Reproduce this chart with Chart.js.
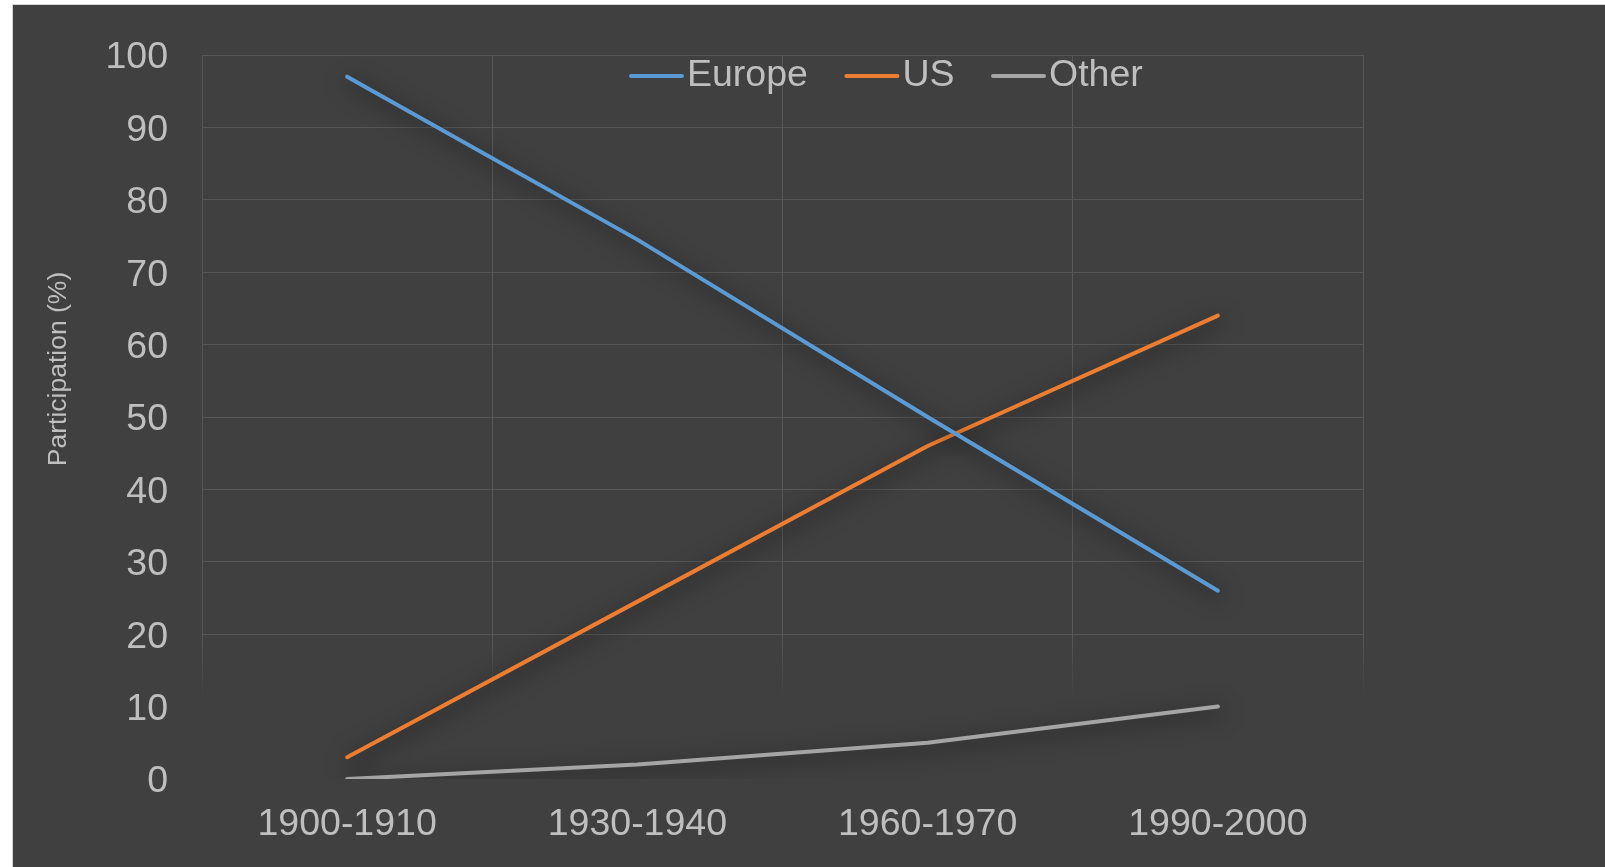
<!DOCTYPE html>
<html>
<head>
<meta charset="utf-8">
<title>Participation by region</title>
<script src="https://cdn.jsdelivr.net/npm/chart.js@4/dist/chart.umd.min.js"></script>
<style>
  html, body { margin: 0; padding: 0; background: #ffffff; }
  #frame {
    position: absolute; left: 12px; top: 4px;
    width: 1592px; height: 862px;
    border-top: 1px solid #d4d4d4; border-left: 1px solid #d4d4d4;
    background: #404040;
  }
  #frame canvas { display: block; }
</style>
</head>
<body>
<div id="frame"><canvas id="chart" width="1592" height="862"></canvas></div>
<script>
// Decades on the category axis
const periods = ['1900-1910', '1930-1940', '1960-1970', '1990-2000'];

// Share of participation per region (%)
const europe = [97, 74.5, 50, 26];
const us = [3, 24.5, 46, 64];
const other = [0, 2, 5, 10];

const seriesNames = ['Europe', 'US', 'Other'];
const seriesColors = ['#5B9BD5', '#ED7D31', '#A5A5A5'];

// Value axis range and step
const yMin = 0;
const yMax = 100;
const yStep = 10;

const yTitle = 'Participation (%)';

const FONT = '"Liberation Sans", Arial, Helvetica, sans-serif';
const TEXT = '#BFBFBF';
const GRID = '#575757';
const GRID_CLEAR = 'rgba(87,87,87,0)';

// Vertical grid lines fade out toward the bottom of the plot
function verticalGridColor(c) {
  const chart = c.chart;
  const area = chart.chartArea;
  if (!area) return GRID;
  const g = chart.ctx.createLinearGradient(0, area.top, 0, area.bottom);
  g.addColorStop(0, GRID);
  g.addColorStop(0.8, GRID);
  g.addColorStop(0.89, GRID_CLEAR);
  g.addColorStop(1, GRID_CLEAR);
  return g;
}

// Horizontal grid lines: the lowest ones are lost in the shading
function horizontalGridColor(c) {
  const v = c.tick ? c.tick.value : 100;
  return v <= 10 ? GRID_CLEAR : GRID;
}

// Soft dark shadow under each series line
const lineShadow = {
  id: 'lineShadow',
  beforeDatasetDraw(chart) {
    const ctx = chart.ctx;
    ctx.save();
    ctx.shadowColor = 'rgba(0,0,0,0.8)';
    ctx.shadowBlur = 22;
    ctx.shadowOffsetX = 2;
    ctx.shadowOffsetY = 5;
  },
  afterDatasetDraw(chart) {
    chart.ctx.restore();
  }
};

// Legend drawn inside the top of the plot area
const inlineLegend = {
  id: 'inlineLegend',
  afterDraw(chart) {
    const ctx = chart.ctx;
    ctx.save();
    ctx.font = '37.5px ' + FONT;
    ctx.textBaseline = 'middle';
    ctx.textAlign = 'left';
    let x = 616;
    const y = 71;
    chart.data.datasets.forEach(ds => {
      ctx.strokeStyle = ds.borderColor;
      ctx.lineWidth = 4;
      ctx.lineCap = 'round';
      ctx.beginPath();
      ctx.moveTo(x + 2, y);
      ctx.lineTo(x + 53, y);
      ctx.stroke();
      x += 58;
      ctx.fillStyle = TEXT;
      ctx.fillText(ds.label, x, y);
      x += ctx.measureText(ds.label).width + 36.5;
    });
    ctx.restore();
  }
};

// Vertical title beside the value axis
const axisTitle = {
  id: 'axisTitle',
  afterDraw(chart) {
    const ctx = chart.ctx;
    ctx.save();
    ctx.translate(53, 364);
    ctx.rotate(-Math.PI / 2);
    ctx.font = '26.5px ' + FONT;
    ctx.fillStyle = TEXT;
    ctx.textAlign = 'center';
    ctx.textBaseline = 'alphabetic';
    ctx.fillText(yTitle, 0, 0);
    ctx.restore();
  }
};

const seriesValues = [europe, us, other];

new Chart(document.getElementById('chart'), {
  type: 'line',
  data: {
    labels: periods,
    datasets: seriesNames.map((name, i) => ({
      label: name,
      data: seriesValues[i],
      borderColor: seriesColors[i],
      backgroundColor: seriesColors[i],
      borderWidth: 4,
      borderCapStyle: 'round',
      borderJoinStyle: 'round',
      pointRadius: 0,
      tension: 0,
      fill: false
    }))
  },
  options: {
    responsive: false,
    animation: false,
    devicePixelRatio: 1,
    layout: { padding: { top: 50, right: 242, left: 0, bottom: 0 } },
    plugins: {
      legend: { display: false },
      tooltip: { enabled: false },
      title: { display: false }
    },
    scales: {
      x: {
        offset: true,
        grid: { offset: true, color: verticalGridColor, lineWidth: 1, drawTicks: false },
        border: { display: false },
        ticks: {
          color: TEXT,
          font: { family: FONT, size: 37.5 },
          padding: 23,
          maxRotation: 0,
          autoSkip: false
        },
        afterFit(scale) {
          scale.height = 88;
          scale.paddingLeft = 0;
          scale.paddingRight = 0;
        }
      },
      y: {
        min: yMin,
        max: yMax,
        grid: { color: horizontalGridColor, lineWidth: 1, drawTicks: false },
        border: { display: false },
        ticks: {
          stepSize: yStep,
          color: TEXT,
          font: { family: FONT, size: 37.5 },
          padding: 34,
          labelOffset: 3
        },
        afterFit(scale) {
          scale.width = 189;
          scale.paddingTop = 0;
          scale.paddingBottom = 0;
        }
      }
    }
  },
  plugins: [lineShadow, inlineLegend, axisTitle]
});
</script>
</body>
</html>
